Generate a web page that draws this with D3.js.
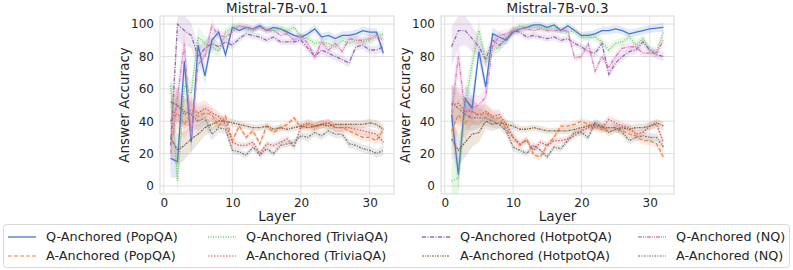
<!DOCTYPE html>
<html><head><meta charset="utf-8">
<script src="https://cdn.jsdelivr.net/npm/d3@7"></script>
<style>body{margin:0;background:#fff}svg{display:block}text{font-family:"DejaVu Sans",sans-serif;fill:#262626}</style>
</head><body><svg id="c" width="793" height="270"></svg>
<script>
const layers = d3.range(1, 33);
const yTicks = [0, 20, 40, 60, 80, 100];
const xTicks = [0, 10, 20, 30];
const titles = ["Mistral-7B-v0.1", "Mistral-7B-v0.3"];
const seriesNames = ["Q-Anchored (PopQA)","A-Anchored (PopQA)","Q-Anchored (TriviaQA)","A-Anchored (TriviaQA)","Q-Anchored (HotpotQA)","A-Anchored (HotpotQA)","Q-Anchored (NQ)","A-Anchored (NQ)"];
const colors = ["#4878d0","#ee854a","#6acc64","#d65f5f","#956cb4","#8c613c","#dc7ec0","#797979"];
const dashes = ["none","4,2","1,1.5","1.5,1.5","4,1.5,1,1.5","2,1,1,1","4,1,1,1,1,1","2,1.2,1,1.2"];

// v0.1
const v1_qPop  = [17,15,77,27,87,68,90,95,81,98,96,98,97,99,96,98,97,95,93,92,94,97,92,93,91,93,93,94,96,95,95,82];
const v1_aPop  = [40,45,38,45,43,45,44,37,43,28,37,30,34,26,37,33,36,38,42,36,38,36,38,39,36,36,34,32,30,30,28,35];
const v1_qTri  = [62,3,62,57,92,88,86,83,95,98,99,97,96,98,97,96,97,96,98,92,91,88,89,88,86,90,88,90,89,90,92,94];
const v1_aTri  = [40,50,44,47,45,48,45,43,38,27,25,25,27,20,26,25,27,29,24,37,39,37,38,39,36,36,36,35,34,33,32,27];
const v1_qHot  = [25,100,96,93,80,85,88,86,89,87,91,94,93,92,90,92,89,89,89,90,85,80,84,82,80,78,76,86,87,84,84,86];
const v1_aHot  = [30,22,25,29,32,36,38,40,40,39,38,37,36,36,37,35,36,35,36,37,36,37,38,37,38,38,38,38,38,39,38,35];
const v1_qNQ   = [20,55,88,30,75,80,99,93,92,95,99,98,97,98,96,96,93,94,90,93,88,80,89,84,88,83,91,90,90,91,93,90];
const v1_aNQ   = [52,50,46,44,40,42,32,36,35,22,21,19,24,19,23,20,25,26,27,31,30,33,31,34,32,32,26,25,23,22,20,22];
// v0.3
const v3_qPop  = [44,7,54,48,83,61,94,92,90,95,97,98,99.5,99.5,98,99.5,96,99,96,93,93,94,96,96,97,96,94,95,96,97,97.5,98];
const v3_aPop  = [34,44,38,46,43,45,42,42,35,30,25,29,19,18,25,30,37,37,38,40,38,36,35,36,36,34,32,31,28,28,26,18];
const v3_qTri  = [3,5,50,75,96,77,84,86,91,96,99,98,98,98,97,97,96,95,96,92,92,92,89,84,88,89,92,87,91,84,83,95];
const v3_aTri  = [50,51,46,46,44,46,43,44,38,30,26,28,22,27,25,28,28,29,31,34,36,37,36,41,39,37,36,32,33,37,38,27];
const v3_qHot  = [86,96,96,91,86,78,90,87,91,96,95,92,93,92,91,92,90,91,88,86,83,82,88,69,76,80,83,84,89,84,81,80];
const v3_aHot  = [29,22,27,32,33,40,38,39,38,37,35,35,36,35,34,34,34,34,35,36,37,38,37,33,35,36,35,36,36,37,39,37];
const v3_qNQ   = [45,80,45,48,50,55,86,93,94,96,97,97,96,97,96,96,96,96,79,80,88,71,80,73,80,85,86,86,82,82,82,90];
const v3_aNQ   = [51,48,44,42,42,42,40,38,34,24,22,20,25,22,18,24,23,28,33,33,30,39,36,36,36,33,28,30,31,30,30,24];
// approximate half-width of the shaded bands per layer
const bandHalf = [12,10,9,8,6,5,4,3,3,2.5,2,2,2,2,2,2,2,2,2,2,2.5,2.5,2.5,2.5,2.5,2.5,2.5,2.5,2.5,2.5,2.5,3];

const panels = [
  {title: titles[0], series: [v1_qPop,v1_aPop,v1_qTri,v1_aTri,v1_qHot,v1_aHot,v1_qNQ,v1_aNQ], x0: 160, x1: 394},
  {title: titles[1], series: [v3_qPop,v3_aPop,v3_qTri,v3_aTri,v3_qHot,v3_aHot,v3_qNQ,v3_aNQ], x0: 441, x1: 674}
];
const yTop = 16, yBot = 194;
const svg = d3.select("#c");

panels.forEach(p => {
  const x = d3.scaleLinear().domain([-0.55, 33.55]).range([p.x0, p.x1]);
  const y = d3.scaleLinear().domain([-5, 105]).range([yBot, yTop]);
  const g = svg.append("g");
  g.selectAll(".gy").data(yTicks).join("line").attr("x1", p.x0).attr("x2", p.x1)
    .attr("y1", d => y(d)).attr("y2", d => y(d)).attr("stroke", "#e0e0e0").attr("stroke-width", 1);
  g.selectAll(".gx").data(xTicks).join("line").attr("y1", yTop).attr("y2", yBot)
    .attr("x1", d => x(d)).attr("x2", d => x(d)).attr("stroke", "#e0e0e0").attr("stroke-width", 1);
  p.series.forEach((s, i) => {
    const area = d3.area().x((d, j) => x(layers[j]))
      .y0((d, j) => y(Math.max(-5, d - bandHalf[j]))).y1((d, j) => y(Math.min(105, d + bandHalf[j])));
    g.append("path").datum(s).attr("d", area).attr("fill", colors[i]).attr("opacity", 0.16);
  });
  p.series.forEach((s, i) => {
    const line = d3.line().x((d, j) => x(layers[j])).y(d => y(d));
    g.append("path").datum(s).attr("d", line).attr("fill", "none").attr("stroke", colors[i])
      .attr("stroke-width", 1.3).attr("stroke-dasharray", dashes[i]);
  });
  g.append("rect").attr("x", p.x0).attr("y", yTop).attr("width", p.x1 - p.x0).attr("height", yBot - yTop)
    .attr("fill", "none").attr("stroke", "#d8d8d8").attr("stroke-width", 1);
  const ax = d3.axisBottom(x).tickValues(xTicks).tickSize(0).tickPadding(4);
  const gx = g.append("g").attr("transform", `translate(0,${yBot})`).call(ax);
  gx.select(".domain").remove();
  gx.selectAll("text").attr("font-size", 12).style("fill", "#262626").attr("font-family", "DejaVu Sans");
  const ay = d3.axisLeft(y).tickValues(yTicks).tickSize(0).tickPadding(6);
  const gy = g.append("g").attr("transform", `translate(${p.x0},0)`).call(ay);
  gy.select(".domain").remove();
  gy.selectAll("text").attr("font-size", 12).style("fill", "#262626").attr("font-family", "DejaVu Sans");
  g.append("text").attr("x", (p.x0 + p.x1) / 2).attr("y", 13).attr("text-anchor", "middle")
    .attr("font-size", 13.5).text(p.title);
  g.append("text").attr("x", (p.x0 + p.x1) / 2).attr("y", 221).attr("text-anchor", "middle")
    .attr("font-size", 13.5).text("Layer");
  g.append("text").attr("transform", `translate(${p.x0 - 31},${(yTop + yBot) / 2}) rotate(-90)`)
    .attr("text-anchor", "middle").attr("font-size", 13.5).text("Answer Accuracy");
});

const leg = svg.append("g");
leg.append("rect").attr("x", 3.5).attr("y", 224.5).attr("width", 786).attr("height", 43).attr("rx", 3)
  .attr("fill", "#fff").attr("stroke", "#d8d8d8");
const colX = [8, 208, 422, 638];
const rowY = [237, 256];
seriesNames.forEach((n, i) => {
  const c = Math.floor(i / 2), r = i % 2;
  leg.append("line").attr("x1", colX[c]).attr("x2", colX[c] + 28).attr("y1", rowY[r]).attr("y2", rowY[r])
    .attr("stroke", colors[i]).attr("stroke-width", 1.3).attr("stroke-dasharray", dashes[i])
    .attr("opacity", i % 2 ? 0.7 : 1);
  leg.append("text").attr("x", colX[c] + 38).attr("y", rowY[r]).attr("dy", "0.35em")
    .attr("font-size", 12.8).text(n);
});
</script></body></html>
